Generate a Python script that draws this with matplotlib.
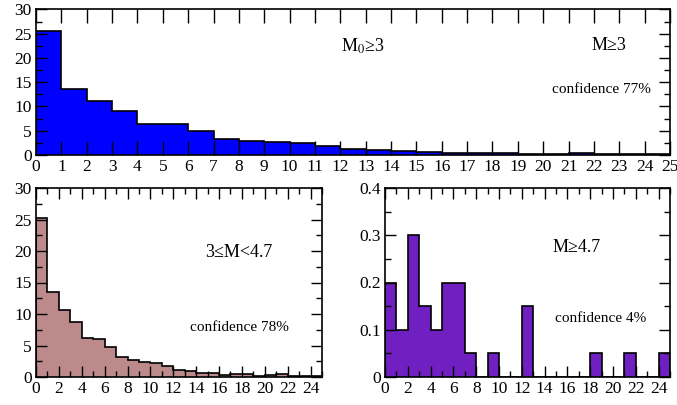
import numpy as np
import matplotlib
matplotlib.use("Agg")
import matplotlib.pyplot as plt
from matplotlib.ticker import MultipleLocator

plt.rcParams['font.family'] = ['Liberation Serif', 'DejaVu Serif']
plt.rcParams['font.size'] = 12.5
plt.rcParams['mathtext.fontset'] = 'stix'

edges = np.arange(0, 26)

# M >= 3 (all events)
all_vals = [25.6, 13.7, 11.1, 9.0, 6.4, 6.3, 5.0, 3.3, 2.9, 2.6, 2.5, 1.9, 1.3,
            1.0, 0.8, 0.7, 0.4, 0.5, 0.5, 0.25, 0.3, 0.5, 0.15, 0.2, 0.3]
# 3 <= M < 4.7
mid_vals = [25.3, 13.5, 10.7, 8.8, 6.2, 6.0, 4.7, 3.1, 2.7, 2.4, 2.3, 1.7, 1.1,
            0.9, 0.7, 0.6, 0.35, 0.45, 0.4, 0.2, 0.25, 0.4, 0.1, 0.15, 0.2]
# M >= 4.7
big_vals = [0.2, 0.1, 0.3, 0.15, 0.1, 0.2, 0.2, 0.05, 0, 0.05, 0, 0, 0.15,
            0, 0, 0, 0, 0, 0.05, 0, 0, 0.05, 0, 0, 0.05]

fig = plt.figure(figsize=(6.77, 4.05), dpi=100)
ax1 = fig.add_axes([36/677, 1-155/405, (670-36)/677, (155-9.5)/405])
ax2 = fig.add_axes([36/677, 1-377/405, (322-36)/677, (377-188)/405])
ax3 = fig.add_axes([385/677, 1-377/405, (670-385)/677, (377-188)/405])


def draw_hist(ax, vals, color):
    ax.stairs(vals, edges, fill=True, color=color, lw=0)
    ax.stairs(vals, edges, fill=False, color='black', lw=1.2, baseline=0)
    ax.set_xlim(0, 25)
    ax.tick_params(which='both', direction='in', top=True, right=True, width=1)
    ax.tick_params(which='major', length=8, pad=3)
    ax.tick_params(which='minor', length=4)
    for s in ax.spines.values():
        s.set_linewidth(1.2)


draw_hist(ax1, all_vals, '#0000ff')
ax1.set_ylim(0, 30)
ax1.xaxis.set_major_locator(MultipleLocator(1))
ax1.yaxis.set_major_locator(MultipleLocator(5))
ax1.yaxis.set_minor_locator(MultipleLocator(2.5))
ax1.tick_params(axis='x', which='major', length=10)
ax1.text(12.9, 22.5, r'M$_0$≥3', ha='center', va='center', fontsize=13)
ax1.text(22.6, 22.5, 'M≥3', ha='center', va='center', fontsize=13)
ax1.text(22.3, 13.5, 'confidence 77%', ha='center', va='center', fontsize=11)

draw_hist(ax2, mid_vals, '#bc8a8a')
ax2.set_ylim(0, 30)
ax2.xaxis.set_major_locator(MultipleLocator(2))
ax2.xaxis.set_minor_locator(MultipleLocator(1))
ax2.yaxis.set_major_locator(MultipleLocator(5))
ax2.yaxis.set_minor_locator(MultipleLocator(2.5))
ax2.text(17.7, 19.8, '3≤M<4.7', ha='center', va='center', fontsize=13)
ax2.text(17.8, 7.9, 'confidence 78%', ha='center', va='center', fontsize=11)

draw_hist(ax3, big_vals, '#7020c0')
ax3.set_ylim(0, 0.4)
ax3.xaxis.set_major_locator(MultipleLocator(2))
ax3.xaxis.set_minor_locator(MultipleLocator(1))
ax3.yaxis.set_major_locator(MultipleLocator(0.1))
ax3.yaxis.set_minor_locator(MultipleLocator(0.05))
ax3.yaxis.set_major_formatter(lambda v, p: '0' if v == 0 else f'{v:.1f}')
ax3.text(16.8, 0.275, 'M≥4.7', ha='center', va='center', fontsize=13)
ax3.text(18.9, 0.123, 'confidence 4%', ha='center', va='center', fontsize=11)

fig.savefig('out.png', dpi=100)
